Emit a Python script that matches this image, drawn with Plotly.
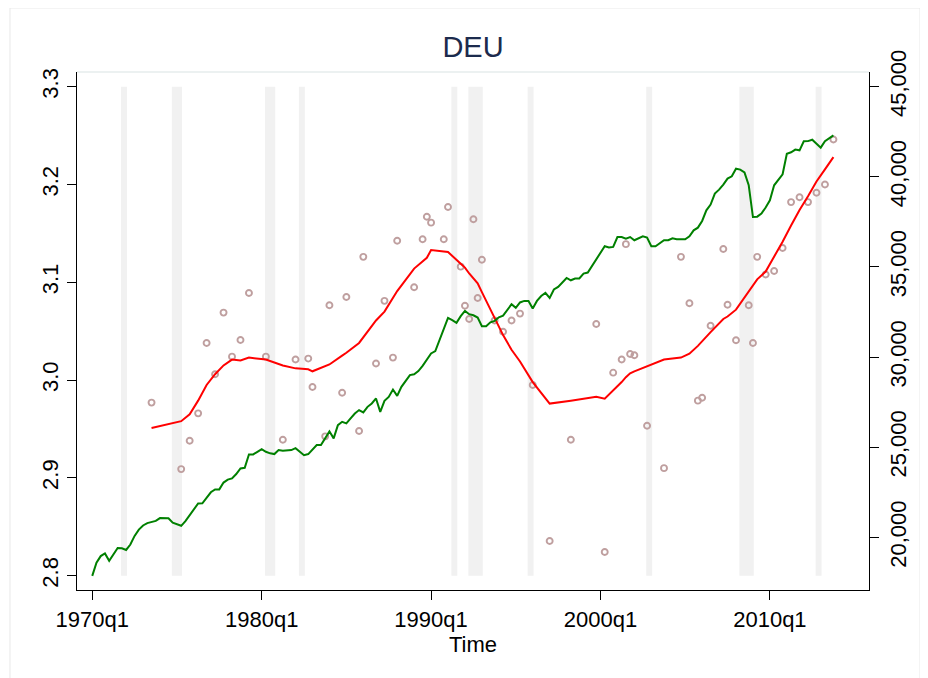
import plotly.graph_objects as go

# quarterly time axis: 1970q1 .. 2013q4 as decimal years
start_year = 1970
n_quarters = 176

# green series (right axis), quarterly
gdp_pc = [
    17860, 18590, 18960, 19110,
    18700, 19080, 19410, 19390,
    19300, 19600, 20080, 20430,
    20660, 20790, 20850, 20910,
    21070, 21070, 21060, 20810,
    20740, 20640, 20900, 21250,
    21560, 21880, 21890, 22220,
    22500, 22660, 22660, 23040,
    23200, 23270, 23510, 23825,
    23860, 24600, 24600, 24745,
    24890, 24745, 24660, 24620,
    24840, 24800, 24840, 24840,
    24950, 24745, 24560, 24620,
    24890, 25120, 25120, 25520,
    25880, 25490, 26225, 26410,
    26320, 26600, 26870, 27060,
    26930, 27240, 27430, 27705,
    26960, 27570, 27790, 28200,
    27850, 28350, 28660, 29000,
    29050, 29220, 29510, 29870,
    30200, 30330, 30940, 31530,
    32170, 32045, 31900, 32270,
    32560, 32380, 32320, 32195,
    31710, 31710, 31930, 32010,
    32210, 32300, 32600, 32930,
    32730, 33030, 33115, 33115,
    32690, 33115, 33390, 33560,
    33280, 33750, 33890, 34135,
    34390, 34260, 34360, 34360,
    34630, 34690, 35040, 35410,
    35740, 36150, 36075, 36110,
    36660, 36660, 36570, 36660,
    36480, 36580, 36700, 36630,
    36150, 36150, 36330, 36480,
    36480, 36590, 36535, 36550,
    36535, 36700, 37030, 37180,
    37550, 38140, 38460, 39070,
    39290, 39570, 39900, 40030,
    40450, 40400, 40250, 39530,
    37770, 37790, 37960, 38300,
    38700, 39530, 39840, 40140,
    41280, 41360, 41510, 41470,
    41970, 41980, 42060, 41840,
    41620, 41980, 42150, 42300,
]

# observation dates of the scatter (decimal years) and values (left axis)
obs_time = [
    1973.5, 1975.25, 1975.75, 1976.25, 1976.75, 1977.25, 1977.75, 1978.25,
    1978.75, 1979.25, 1980.25, 1981.25, 1982.0, 1982.75, 1983.0, 1983.75,
    1984.0, 1984.75, 1985.0, 1985.75, 1986.0, 1986.75, 1987.25, 1987.75,
    1988.0, 1989.0, 1989.5, 1989.75, 1990.0, 1990.75, 1991.0, 1991.75,
    1992.0, 1992.25, 1992.5, 1992.75, 1993.0, 1993.75, 1994.25, 1994.75,
    1995.25, 1996.0, 1997.0, 1998.25, 1999.75, 2000.25, 2000.75, 2001.25,
    2001.5, 2001.75, 2002.0, 2002.75, 2003.75, 2004.75, 2005.25, 2005.75,
    2006.0, 2006.5, 2007.25, 2007.5, 2008.0, 2008.75, 2009.0, 2009.25,
    2009.75, 2010.25, 2010.75, 2011.25, 2011.75, 2012.25, 2012.75, 2013.25,
    2013.75,
]
obs_value = [
    2.977, 2.909, 2.938, 2.966, 3.038, 3.006, 3.069, 3.024,
    3.041, 3.089, 3.024, 2.939, 3.021, 3.022, 2.993, 2.9425,
    3.0765, 2.987, 3.085, 2.948, 3.126, 3.017, 3.081, 3.023,
    3.1425, 3.095, 3.144, 3.167, 3.161, 3.144, 3.177, 3.116,
    3.076, 3.0625, 3.1645, 3.084, 3.123, 3.061, 3.0495, 3.061,
    3.068, 2.995, 2.8355, 2.939, 3.0574, 2.8242, 3.0076, 3.021,
    3.139, 3.0267, 3.0254, 2.9534, 2.910, 3.126, 3.0785, 2.979,
    2.982, 3.0556, 3.134, 3.077, 3.0407, 3.0765, 3.038, 3.126,
    3.108, 3.1116, 3.135, 3.182, 3.187, 3.182, 3.1916, 3.200,
    3.246,
]
# smoothed fit at the same dates (left axis)
fit_value = [
    2.951, 2.958, 2.965, 2.979, 2.995, 3.006, 3.015, 3.021,
    3.020, 3.023, 3.021, 3.015, 3.012, 3.011, 3.009, 3.014,
    3.016, 3.025, 3.028, 3.038, 3.044, 3.061, 3.070, 3.085,
    3.091, 3.114, 3.122, 3.125, 3.133, 3.132, 3.131, 3.119,
    3.115, 3.109, 3.104, 3.099, 3.090, 3.064, 3.046, 3.031,
    3.019, 2.998, 2.976, 2.979, 2.983, 2.981, 2.989, 2.998,
    3.003, 3.007, 3.009, 3.0145, 3.021, 3.023, 3.027, 3.035,
    3.040, 3.049, 3.0625, 3.065, 3.072, 3.090, 3.096, 3.103,
    3.111, 3.126, 3.1415, 3.158, 3.174, 3.188, 3.203, 3.2155,
    3.228,
]

# recession periods (first quarter start, last quarter end)
rec_start = [1971.75, 1974.75, 1980.25, 1982.25, 1991.25, 1992.25, 1995.75, 2002.75, 2008.25, 2012.75]
rec_end = [1972.0, 1975.25, 1980.75, 1982.5, 1991.5, 1993.0, 1996.0, 2003.0, 2009.0, 2013.0]

x_tick_years = [1970, 1980, 1990, 2000, 2010]
x_tick_text = ["1970q1", "1980q1", "1990q1", "2000q1", "2010q1"]
left_ticks = [2.8, 2.9, 3.0, 3.1, 3.2, 3.3]
right_ticks = [20000, 25000, 30000, 35000, 40000, 45000]

quarters = [start_year + i / 4 for i in range(n_quarters)]

FONT = "Liberation Sans, Arial, Helvetica, sans-serif"

fig = go.Figure()

fig.add_trace(go.Scatter(
    x=obs_time, y=obs_value, mode="markers", yaxis="y",
    marker=dict(symbol="circle-open", size=6, color="#bf9f9f", line=dict(width=1.9)),
    showlegend=False,
))
fig.add_trace(go.Scatter(
    x=obs_time, y=fit_value, mode="lines", yaxis="y",
    line=dict(color="#ff0000", width=2), showlegend=False,
))
fig.add_trace(go.Scatter(
    x=quarters, y=gdp_pc, mode="lines", yaxis="y2",
    line=dict(color="#008000", width=2), showlegend=False,
))

shapes = []
for s, e in zip(rec_start, rec_end):
    shapes.append(dict(
        type="rect", xref="x", yref="y", x0=s - 0.05, x1=e + 0.05,
        y0=left_ticks[0], y1=left_ticks[-1],
        fillcolor="#f1f1f1", line=dict(width=0), layer="below",
    ))
# faint plot-region top edge and outer graph frame
shapes.append(dict(type="line", xref="paper", yref="paper", x0=0, x1=1, y0=1, y1=1,
                   line=dict(color="#e6eced", width=1.5)))
shapes.append(dict(type="rect", xref="paper", yref="paper",
                   x0=-0.0846, x1=1.0644, y0=-0.25, y1=1.1236,
                   line=dict(color="#e8e8e8", width=1), fillcolor="rgba(0,0,0,0)"))

axis_common = dict(
    showgrid=False, zeroline=False, showline=True, linecolor="black", linewidth=1.3,
    ticks="outside", ticklen=9, tickwidth=1.3, tickcolor="black",
    tickfont=dict(family=FONT, size=22, color="black"),
)

# the page adds an 8px body margin, so the figure is 920x670 with margins shifted
fig.update_layout(
    width=920, height=670,
    margin=dict(l=69, r=59, t=64, b=88),
    paper_bgcolor="white", plot_bgcolor="white",
    font=dict(family=FONT, color="black"),
    title=dict(text="DEU", x=0.5, xref="paper", y=0.9418, yanchor="middle",
               font=dict(family=FONT, size=29, color="#1c2b4d")),
    xaxis=dict(
        range=[1969.1, 2015.85], tickvals=x_tick_years, ticktext=x_tick_text,
        title=dict(text="Time", font=dict(family=FONT, size=22, color="black"), standoff=2),
        **axis_common,
    ),
    yaxis=dict(
        range=[2.7854, 3.315], tickvals=left_ticks, tickformat=".1f", tickangle=-90,
        **axis_common,
    ),
    yaxis2=dict(
        range=[17079, 45815], tickvals=right_ticks, tickformat=",d", tickangle=-90,
        overlaying="y", side="right",
        **axis_common,
    ),
    shapes=shapes,
)

fig.write_html("out.html")
